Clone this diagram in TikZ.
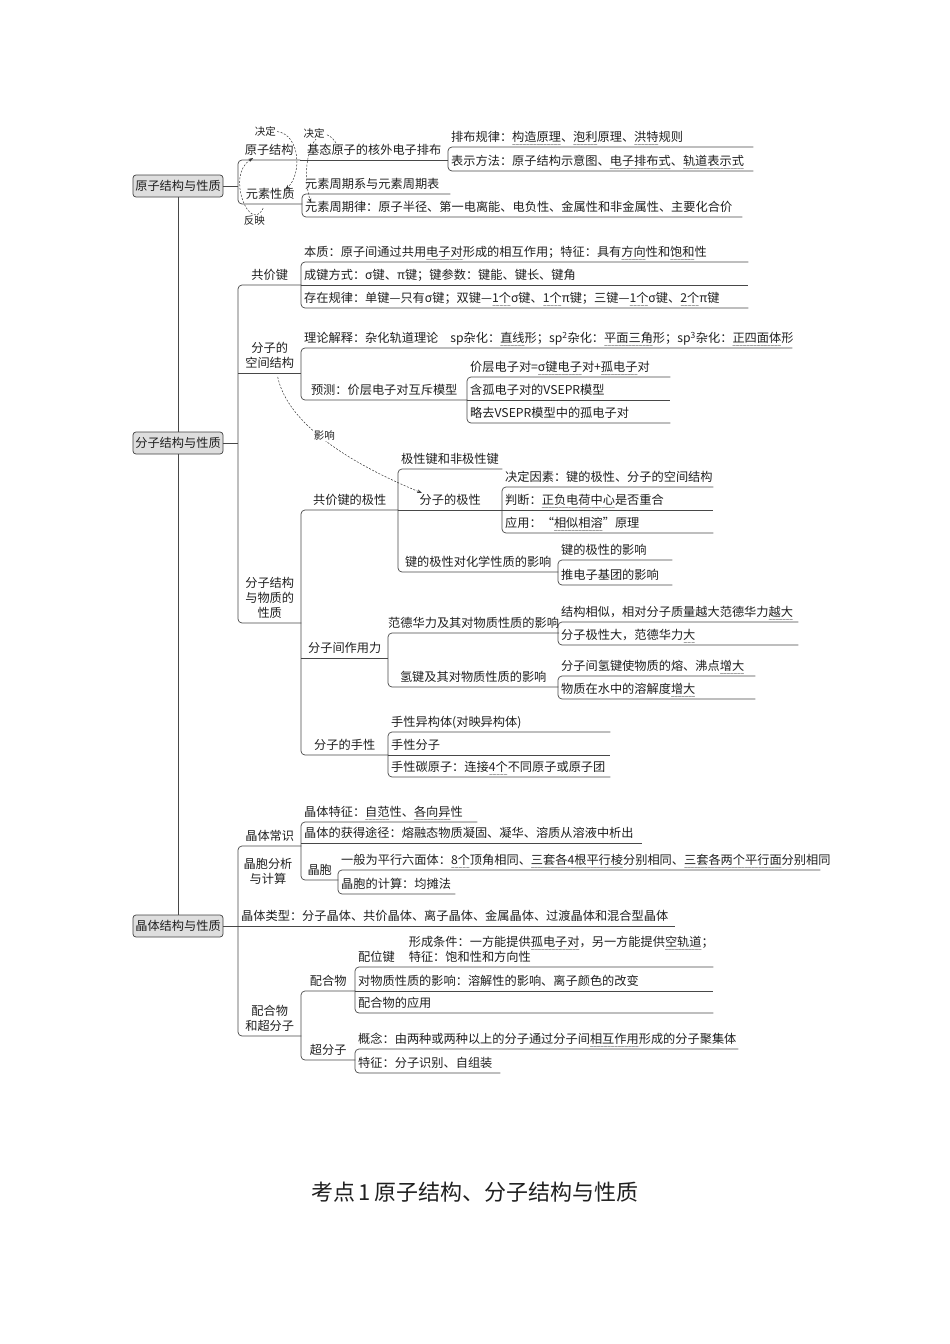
\documentclass[tikz,border=0pt]{standalone}
\usepackage{fontspec}
\setmainfont{Noto Sans CJK SC}
\newfontfamily\wavefam{DejaVu Sans}
\usetikzlibrary{positioning, calc, arrows.meta}

\newcommand\mapfont{\fontsize{12.2}{15}\selectfont}
\newcommand\notefont{\fontsize{10.5}{12}\selectfont}
\newcommand\wv[1]{\setbox0\hbox{#1}\leavevmode\rlap{\lower4.9pt\hbox to\wd0{\wavefam\fontsize{5}{5}\selectfont\xleaders\hbox{\kern-0.45pt\char`\~\kern-0.45pt}\hfil}}\box0}
\newcommand\fork[2]{\draw[link] (#1.south east) -- (#1.south west) -- (#2.south west) -- (#2.south east);}
\newcommand\stem[1]{\draw[link] (#1.south west) -- (#1.south east);}

\begin{document}
\begin{tikzpicture}[x=1pt, y=-1pt,
    every node/.style={font=\mapfont, text=black!88},
    topic/.style={draw=black!75, fill=black!13, rounded corners=3pt, minimum width=90pt, minimum height=22pt, inner sep=1pt, line width=0.7pt},
    mid/.style={anchor=south west, inner xsep=0pt, inner ysep=3.5pt, text depth=1.8pt, minimum width=#1pt},
    leaf/.style={anchor=south west, inner xsep=3pt, inner ysep=3.5pt, text depth=1.8pt,
        execute at begin node={\hbox to #1pt\bgroup}, execute at end node={\hfil\egroup}},
    link/.style={draw=black!72, line width=0.7pt, rounded corners=4pt},
    infl/.style={draw=black!80, line width=0.5pt, dash pattern=on 2pt off 1.5pt, -{Stealth[length=5pt, width=3.5pt]}},
    lab/.style={font=\notefont, inner sep=1pt}]
    \useasboundingbox (0,0) rectangle (950,1344);

    \node[topic] (yzxz) at (178,186) {原子结构与性质};
    \node[mid=62] (yzjg) at (238,160) {原子结构};
    \node[mid=148] (jtpb) at (300,160) {基态原子的核外电子排布};
    \node[leaf=299] (pbgl) at (448,147) {排布规律：\wv{构造原理}、\wv{泡利}原理、\wv{洪特}规则};
    \node[leaf=299] (bsff) at (448,171) {表示方法：原子结构示意图、\wv{电子排布式}、\wv{轨道表示式}};
    \node[mid=64] (yzxg) at (238,204) {元素性质};
    \node[leaf=142] (zqb) at (302,194) {元素周期系与元素周期表};
    \node[leaf=434] (zql) at (302,217) {元素周期律：原子半径、第一电离能、电负性、金属性和非金属性、主要化合价};

    \node[topic] (fzxz) at (178,443) {分子结构与性质};
    \node[mid=63] (gjj) at (238,285) {共价键};
    \node[leaf=441] (bz) at (301,262) {本质：原子间通过共用\wv{电子对}形成的相互作用；特征：具有\wv{方向}性和\wv{饱和}性};
    \node[leaf=441] (cjfs) at (301,285) {成键方式：σ键、π键；键参数：键能、键长、键角};
    \node[leaf=441] (czgl) at (301,308) {存在规律：单键—只有σ键；双键—\wv{1个}σ键、\wv{1个}π键；三键—\wv{1个}σ键、\wv{2个}π键};
    \node[mid=63] (kjjg) at (238,373) {\begin{tabular}[b]{@{}c@{}}分子的\\空间结构\end{tabular}};
    \node[leaf=485] (llj) at (301,348) {理论解释：杂化轨道理论\hspace{12pt}sp杂化：\wv{直线}形；sp\textsuperscript{2}杂化：\wv{平面三角}形；sp\textsuperscript{3}杂化：\wv{正四面体}形};
    \node[mid=166] (yc) at (301,400) {预测：价层电子对互斥模型};
    \node[leaf=197] (jcdz) at (467,377) {价层电子对=\wv{σ键电子}对+\wv{孤电子}对};
    \node[leaf=197] (hgdz) at (467,400) {含孤电子对的VSEPR模型};
    \node[leaf=197] (lqgd) at (467,423) {略去VSEPR模型中的孤电子对};
    \node[mid=63] (wzxz) at (238,623) {\begin{tabular}[b]{@{}c@{}}分子结构\\与物质的\\性质\end{tabular}};
    \node[mid=97] (gjjx) at (301,510) {共价键的极性};
    \node[leaf=98] (jxj) at (398,469) {极性键和非极性键};
    \node[mid=104] (fzjx) at (398,510) {分子的极性};
    \node[leaf=205] (jdys) at (502,487) {决定因素：键的极性、分子的空间结构};
    \node[leaf=205] (pdzf) at (502,510) {判断：\wv{正负电荷中心}是否重合};
    \node[leaf=205] (yyxs) at (502,533) {应用：“\wv{相似相溶}”原理};
    \node[mid=160] (jxdx) at (398,572) {键的极性对化学性质的影响};
    \node[leaf=108] (jxyx) at (558,560) {键的极性的影响};
    \node[leaf=108] (tdzj) at (558,585) {推电子基团的影响};
    \node[mid=87] (zyl) at (301,658) {分子间作用力};
    \node[mid=170] (fdhl) at (388,633) {范德华力及其对物质性质的影响};
    \node[leaf=234] (jgxs) at (558,622) {结构相似，相对分子质量越大范德华力\wv{越大}};
    \node[leaf=234] (fzjxd) at (558,645) {分子极性大，范德华力\wv{大}};
    \node[mid=170] (qjdx) at (388,687) {氢键及其对物质性质的影响};
    \node[leaf=191] (qjrf) at (558,676) {分子间氢键使物质的熔、沸点\wv{增大}};
    \node[leaf=191] (rjd) at (558,699) {物质在水中的溶解度\wv{增大}};
    \node[mid=87] (sx) at (301,755) {分子的手性};
    \node[leaf=216] (sxyg) at (388,732) {手性异构体(对映异构体)};
    \node[leaf=216] (sxfz) at (388,755) {手性分子};
    \node[leaf=216] (sxty) at (388,777) {手性碳原子：连接\wv{4个}不同原子或原子团};

    \node[topic] (jtxz) at (178,926) {晶体结构与性质};
    \node[mid=63] (jtcs) at (238,846) {晶体常识};
    \node[leaf=170] (jttz) at (301,822) {晶体特征：\wv{自范}性、\wv{各向异}性};
    \node[leaf=335] (hdtj) at (301,843) {晶体的获得途径：熔融态物质凝固、凝华、溶质从溶液中析出};
    \node[mid=37] (jb) at (301,880) {晶胞};
    \node[leaf=476] (pxlm) at (338,870) {一般为平行六面体：\wv{8个}顶角相同、\wv{三套各4根平行棱}分别相同、\wv{三套各两个平行面}分别相同};
    \node[leaf=111] (jbjs) at (338,894) {晶胞的计算：均摊法};
    \node[inner sep=0pt] (jbfx) at (268,873) {\begin{tabular}{@{}c@{}}晶胞分析\\与计算\end{tabular}};
    \node[leaf=431] (jtlx) at (238,926) {晶体类型：分子晶体、共价晶体、离子晶体、金属晶体、过渡晶体和混合型晶体};
    \node[mid=63] (phfz) at (238,1036) {\begin{tabular}[b]{@{}c@{}}配合物\\和超分子\end{tabular}};
    \node[mid=54] (phw) at (301,991) {配合物};
    \node[leaf=352] (pwj) at (355,967) {配位键\hspace{14pt}\begin{tabular}[b]{@{}l@{}}形成条件：一方能提供\wv{孤电子对}，另一方能提供\wv{空轨道}；\\特征：饱和性和方向性\end{tabular}};
    \node[leaf=352] (dwzx) at (355,991) {对物质性质的影响：溶解性的影响、离子颜色的改变};
    \node[leaf=352] (phyy) at (355,1013) {配合物的应用};
    \node[mid=54] (cfz) at (301,1060) {超分子};
    \node[leaf=377] (gnzj) at (355,1049) {概念：由两种或两种以上的分子通过分子间\wv{相互作用}形成的分子聚集体};
    \node[leaf=139] (tzsb) at (355,1073) {特征：分子识别、自组装};

    \node[font=\fontsize{22}{26}\selectfont] (title) at (475,1192) {考点\,1\,原子结构、分子结构与性质};

    \draw[link] (yzxz.south) -- (fzxz.north) (fzxz.south) -- (jtxz.north);
    \draw[link] (yzxz.east) -- (yzxz.east -| yzjg.south west);
    \draw[link] (fzxz.east) -- (fzxz.east -| gjj.south west);
    \draw[link] (jtxz.east) -- (jtxz.east -| jtcs.south west);

    \fork{yzjg}{yzxg}
    \stem{jtpb}
    \fork{pbgl}{bsff}
    \fork{zqb}{zql}

    \fork{gjj}{wzxz}
    \stem{kjjg}
    \fork{bz}{czgl}
    \stem{cjfs}
    \fork{llj}{yc}
    \fork{jcdz}{lqgd}
    \stem{hgdz}
    \fork{gjjx}{sx}
    \stem{zyl}
    \fork{jxj}{jxdx}
    \stem{fzjx}
    \fork{jdys}{yyxs}
    \stem{pdzf}
    \fork{jxyx}{tdzj}
    \fork{fdhl}{qjdx}
    \fork{jgxs}{fzjxd}
    \fork{qjrf}{rjd}
    \fork{sxyg}{sxty}
    \stem{sxfz}

    \fork{jtcs}{phfz}
    \stem{jtlx}
    \fork{jttz}{jb}
    \stem{hdtj}
    \fork{pxlm}{jbjs}
    \fork{phw}{cfz}
    \fork{pwj}{phyy}
    \stem{dwzx}
    \fork{gnzj}{tzsb}

    \draw[infl] ([xshift=8pt,yshift=9pt]yzjg.north) .. controls +(23,3) and +(17,-15) .. ([xshift=15pt,yshift=-5pt]yzxg.north)
        node[lab, pos=0, anchor=east] {决定};
    \draw[infl] ([xshift=-7pt,yshift=-4pt]yzxg.south) .. controls +(-13,27) and +(-28,17) .. ([xshift=-16pt,yshift=2pt]yzjg.south)
        node[lab, pos=0.2, below] {反映};
    \draw[infl] ([xshift=36pt,yshift=17pt]jtpb.south west) .. controls +(-18,-28) and +(-13,-43) .. ([xshift=9pt,yshift=14pt]zql.south west)
        node[lab, fill=white, pos=0.3, xshift=-6pt, yshift=2pt] {决定};
    \draw[infl] ([xshift=8pt,yshift=-4pt]kjjg.south) .. controls +(8,38) and +(-92,-38) .. ([xshift=24pt,yshift=17pt]fzjx.south west)
        node[lab, fill=white, pos=0.5, xshift=6pt] {影响};
\end{tikzpicture}
\end{document}
